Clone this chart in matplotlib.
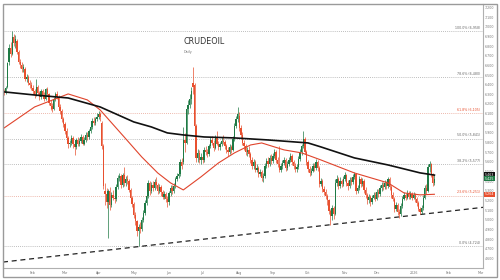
import numpy as np
import pandas as pd
import matplotlib
matplotlib.use("Agg")
import matplotlib.pyplot as plt
import matplotlib.transforms as mtransforms
from matplotlib.patches import Rectangle

# daily candles, first session 2025-01-08, business days only
first_day = "2025-01-08"

opens = [6330, 6310, 6380, 6630, 6780, 6720, 6890, 6830, 6850, 6740, 6640, 6600, 6560, 6560, 6460, 6480, 6420, 6400,
         6370, 6330, 6290, 6380, 6310, 6270, 6330, 6290, 6250, 6350, 6300, 6210, 6180, 6150, 6250, 6300, 6270, 6170, 6130, 6040,
         5990, 5920, 5850, 5780, 5800, 5850, 5790, 5750, 5830, 5780, 5820, 5860, 5790, 5830, 5880, 5860, 5920, 5960, 6020, 6000, 6040,
         6070, 6100, 6000, 5760, 5300, 5270, 5180, 5300, 5150, 5260, 5230, 5210, 5340, 5430, 5450, 5360, 5460, 5380, 5420, 5400, 5310, 5230,
         5160, 5050, 4990, 4880, 4930, 4900, 5000, 5070, 5170, 5250, 5380, 5300, 5360, 5330, 5390, 5360, 5300, 5340, 5290, 5240, 5270, 5220,
         5180, 5280, 5330, 5300, 5350, 5420, 5450, 5470, 5600, 5600, 5830, 5800, 6150, 6190, 6250, 6420, 6400, 5970, 5640, 5690, 5620,
         5650, 5620, 5720, 5700, 5680, 5760, 5830, 5800, 5740, 5850, 5790, 5750, 5780, 5820, 5810, 5760, 5720, 5700, 5750, 5720, 5840, 5970, 6040,
         6080, 5950, 5880, 5800, 5760, 5700, 5720, 5680, 5620, 5560, 5600, 5520, 5540, 5470, 5500, 5430, 5450, 5560, 5610, 5580, 5640,
         5610, 5660, 5700, 5620, 5580, 5520, 5560, 5590, 5620, 5540, 5580, 5620, 5660, 5600, 5560, 5530, 5550, 5630, 5700, 5760, 5840, 5700,
         5600, 5530, 5480, 5510, 5560, 5540, 5600, 5540, 5370, 5400, 5320, 5290, 5250, 5200, 5090, 5040, 5120, 5060, 5380, 5420, 5350, 5400, 5370,
         5420, 5460, 5380, 5350, 5410, 5390, 5440, 5470, 5300, 5330, 5420, 5370, 5400, 5310, 5260, 5200, 5240, 5180, 5230, 5260,
         5220, 5290, 5270, 5330, 5360, 5340, 5380, 5350, 5420, 5340, 5260, 5220, 5110, 5150, 5080, 5060, 5140, 5220, 5260, 5230, 5280, 5240, 5270,
         5230, 5260, 5210, 5170, 5110, 5080, 5120, 5230, 5330, 5300, 5550, 5580, 5460, 5380]
highs = [6360, 6390, 6640, 6820, 6840, 6958, 6920, 6910, 6870, 6760, 6670, 6630, 6610, 6580, 6510, 6500, 6450, 6430,
         6400, 6360, 6460, 6400, 6330, 6350, 6360, 6320, 6370, 6380, 6310, 6240, 6210, 6270, 6320, 6330, 6290, 6200, 6150, 6060,
         6010, 5950, 5870, 5830, 5880, 5870, 5810, 5850, 5860, 5850, 5890, 5880, 5860, 5910, 5910, 5940, 5990, 6050, 6060, 6070, 6110,
         6130, 6120, 6020, 5780, 5380, 5330, 5320, 5340, 5290, 5310, 5270, 5370, 5460, 5480, 5470, 5480, 5550, 5450, 5460, 5420, 5330, 5250,
         5180, 5080, 5000, 4960, 4980, 5030, 5100, 5200, 5280, 5410, 5400, 5390, 5400, 5420, 5440, 5380, 5370, 5360, 5310, 5300, 5290, 5250,
         5300, 5360, 5360, 5380, 5440, 5480, 5500, 5630, 5640, 5960, 5900, 6180, 6240, 6300, 6380, 6580, 6420, 5990, 5730, 5720, 5690,
         5680, 5750, 5760, 5730, 5790, 5860, 5870, 5830, 5880, 5920, 5820, 5810, 5860, 5880, 5830, 5780, 5750, 5780, 5770, 5870, 6000, 6080, 6170,
         6120, 5980, 5910, 5830, 5790, 5750, 5760, 5700, 5650, 5630, 5620, 5580, 5560, 5530, 5520, 5480, 5590, 5640, 5650, 5670, 5680,
         5690, 5730, 5720, 5650, 5760, 5590, 5620, 5650, 5640, 5610, 5650, 5690, 5680, 5620, 5590, 5580, 5660, 5730, 5790, 5920, 5860, 5720,
         5620, 5560, 5540, 5590, 5590, 5630, 5620, 5560, 5430, 5420, 5350, 5320, 5270, 5220, 5110, 5150, 5140, 5420, 5460, 5440, 5440, 5420, 5450,
         5490, 5470, 5410, 5440, 5440, 5470, 5500, 5480, 5360, 5450, 5440, 5430, 5420, 5340, 5280, 5270, 5260, 5260, 5290, 5290,
         5320, 5320, 5360, 5390, 5390, 5410, 5400, 5440, 5440, 5360, 5290, 5240, 5180, 5170, 5110, 5170, 5250, 5290, 5280, 5310, 5300, 5300, 5290,
         5290, 5280, 5240, 5190, 5130, 5150, 5260, 5360, 5370, 5580, 5610, 5590, 5480, 5460]
lows = [6290, 6300, 6370, 6600, 6690, 6710, 6800, 6780, 6720, 6610, 6570, 6530, 6530, 6440, 6430, 6400, 6370, 6340,
        6300, 6260, 6280, 6290, 6240, 6250, 6260, 6230, 6240, 6280, 6190, 6140, 6120, 6140, 6230, 6250, 6150, 6100, 6010, 5960,
        5890, 5810, 5740, 5750, 5770, 5740, 5670, 5730, 5760, 5760, 5800, 5770, 5770, 5810, 5830, 5840, 5900, 5940, 5980, 5980, 6020,
        6040, 6020, 5730, 5320, 5150, 5120, 4810, 5100, 5130, 5200, 5170, 5190, 5320, 5400, 5330, 5340, 5350, 5350, 5370, 5290, 5200, 5130,
        5020, 4950, 4830, 4724, 4860, 4880, 4980, 5050, 5150, 5230, 5260, 5280, 5300, 5310, 5330, 5270, 5280, 5250, 5210, 5220, 5180, 5130,
        5150, 5250, 5270, 5280, 5330, 5400, 5430, 5450, 5530, 5580, 5700, 5780, 6100, 6160, 6200, 6300, 5940, 5600, 5600, 5590, 5580,
        5590, 5600, 5670, 5650, 5660, 5740, 5770, 5710, 5730, 5770, 5720, 5720, 5760, 5780, 5730, 5690, 5660, 5680, 5690, 5710, 5820, 5950, 6010,
        5920, 5850, 5770, 5720, 5670, 5660, 5650, 5590, 5530, 5530, 5490, 5500, 5440, 5450, 5400, 5390, 5430, 5540, 5550, 5560, 5580,
        5590, 5640, 5590, 5550, 5500, 5490, 5530, 5570, 5510, 5520, 5560, 5600, 5570, 5530, 5500, 5500, 5530, 5610, 5670, 5740, 5680, 5570,
        5500, 5450, 5460, 5490, 5510, 5520, 5510, 5340, 5350, 5290, 5260, 5220, 5150, 5060, 4950, 5000, 5010, 5050, 5350, 5320, 5330, 5340, 5350,
        5400, 5350, 5310, 5330, 5360, 5370, 5420, 5270, 5280, 5310, 5340, 5350, 5280, 5230, 5160, 5170, 5140, 5160, 5210, 5190,
        5200, 5240, 5250, 5300, 5310, 5320, 5320, 5330, 5310, 5230, 5190, 5080, 5090, 5050, 5020, 5040, 5120, 5200, 5200, 5210, 5210, 5220, 5200,
        5210, 5180, 5140, 5090, 5055, 5060, 5100, 5210, 5270, 5290, 5500, 5440, 5350, 5360]
closes = [6310, 6370, 6620, 6780, 6720, 6890, 6830, 6870, 6740, 6640, 6600, 6560, 6580, 6460, 6480, 6420, 6400, 6370,
          6330, 6290, 6380, 6310, 6270, 6330, 6290, 6250, 6350, 6300, 6210, 6180, 6150, 6250, 6300, 6270, 6170, 6130, 6040, 5990,
          5920, 5850, 5780, 5800, 5850, 5790, 5750, 5830, 5780, 5820, 5860, 5790, 5830, 5880, 5860, 5920, 5960, 6020, 6000, 6040, 6070,
          6100, 6060, 5760, 5350, 5270, 5180, 5300, 5150, 5260, 5230, 5210, 5340, 5430, 5450, 5360, 5460, 5380, 5420, 5400, 5310, 5230, 5160,
          5050, 4990, 4880, 4930, 4900, 5000, 5070, 5170, 5250, 5380, 5300, 5360, 5330, 5390, 5360, 5300, 5340, 5290, 5240, 5270, 5220, 5180,
          5280, 5330, 5300, 5350, 5420, 5450, 5470, 5600, 5560, 5830, 5800, 6150, 6190, 6250, 6330, 6380, 5970, 5640, 5690, 5620, 5650,
          5620, 5720, 5700, 5680, 5760, 5830, 5800, 5740, 5850, 5790, 5750, 5780, 5820, 5810, 5760, 5720, 5700, 5750, 5720, 5840, 5970, 6040, 6100,
          5950, 5880, 5800, 5760, 5700, 5720, 5680, 5620, 5560, 5600, 5520, 5540, 5470, 5500, 5430, 5450, 5560, 5610, 5580, 5640, 5610,
          5660, 5700, 5620, 5580, 5520, 5560, 5590, 5620, 5540, 5580, 5620, 5660, 5600, 5560, 5530, 5550, 5630, 5700, 5760, 5840, 5700, 5600,
          5530, 5480, 5510, 5560, 5540, 5600, 5540, 5370, 5400, 5320, 5290, 5250, 5200, 5090, 5040, 5120, 5060, 5380, 5420, 5350, 5400, 5370, 5420,
          5460, 5380, 5350, 5410, 5390, 5440, 5470, 5300, 5330, 5420, 5370, 5400, 5310, 5260, 5200, 5240, 5180, 5230, 5260, 5220,
          5290, 5270, 5330, 5360, 5340, 5380, 5350, 5420, 5340, 5260, 5220, 5110, 5150, 5080, 5060, 5140, 5220, 5260, 5230, 5280, 5240, 5270, 5230,
          5260, 5210, 5170, 5110, 5080, 5120, 5230, 5330, 5300, 5550, 5580, 5460, 5380, 5425]

# moving averages
ma50_dates = ["2025-01-08", "2025-02-04", "2025-03-05", "2025-03-21", "2025-04-02", "2025-04-23", "2025-05-08",
              "2025-05-22", "2025-06-03", "2025-06-13", "2025-06-30", "2025-07-15", "2025-07-29", "2025-08-12",
              "2025-08-21", "2025-09-10", "2025-09-25", "2025-10-13", "2025-11-11", "2025-12-10", "2025-12-24",
              "2026-01-07", "2026-01-20"]
ma50_values = [5952, 6169, 6304, 6242, 6138, 5858, 5651, 5485, 5382, 5309, 5444, 5589, 5693, 5775,
               5796, 5724, 5693, 5620, 5485, 5382, 5278, 5258, 5264]
ma200_dates = ["2025-01-08", "2025-02-04", "2025-03-05", "2025-04-02", "2025-05-01", "2025-05-16", "2025-05-30",
               "2025-06-13", "2025-07-02", "2025-07-29", "2025-08-27", "2025-10-01", "2025-10-13", "2025-11-11",
               "2025-12-10", "2026-01-07", "2026-01-20"]
ma200_values = [6325, 6293, 6262, 6169, 6014, 5962, 5900, 5879, 5858, 5848, 5827, 5796, 5755, 5641,
                5568, 5486, 5463]

fib_names = ["100.0%", "78.6%", "61.8%", "50.0%", "38.2%", "23.6%", "0.0%"]
fib_levels = [6958, 6480, 6105, 5841, 5577, 5251, 4724]
fib_red = [False, False, True, False, False, True, False]

trend_dates = ["2025-01-08", "2026-03-02"]
trend_values = [4563, 5126]

month_dates = ["2025-02-03", "2025-03-03", "2025-04-01", "2025-05-01", "2025-06-02", "2025-07-01", "2025-08-01",
               "2025-09-01", "2025-10-01", "2025-11-03", "2025-12-01", "2026-01-01", "2026-02-02", "2026-03-02"]
month_labels = ["Feb", "Mar", "Apr", "May", "Jun", "Jul", "Aug", "Sep", "Oct", "Nov", "Dec", "2026", "Feb", "Mar"]

last_ma200 = 5463
last_close = 5425
last_ma50 = 5264

GREEN = "#1f7a45"
RED = "#e8502f"
GRID = "#a8a8a8"

days = pd.bdate_range(first_day, periods=330)
def pos(dates):
    return days.get_indexer(pd.to_datetime(dates))

o = np.array(opens)
h = np.array(highs)
l = np.array(lows)
c = np.array(closes)
x = np.arange(len(c))
col = np.where(c >= o, GREEN, RED)

fig = plt.figure(figsize=(5, 2.8), dpi=100)
ax = fig.add_axes([3 / 500, 12 / 280, 480 / 500, 264 / 280])
ax.set_xlim(-0.75, 299.4)
ax.set_ylim(4500, 7236)

# fibonacci levels
trans = mtransforms.blended_transform_factory(ax.transAxes, ax.transData)
for name, lvl, red in zip(fib_names, fib_levels, fib_red):
    lc = "#e8a090" if red else GRID
    ax.axhline(lvl, color=lc, lw=0.6, ls=(0, (1, 1.5)), zorder=1)
    ax.text(0.995, lvl + 12, f"{name} ({lvl:,})", transform=trans, ha="right", va="bottom",
            fontsize=2.3, color=RED if red else "#666666")

ax.axline((pos(trend_dates)[0], trend_values[0]), (pos(trend_dates)[1], trend_values[1]),
          color="#222222", lw=0.9, ls=(0, (4, 3)), zorder=2)

# candles
ax.vlines(x, l, h, colors=col, lw=0.5, zorder=3)
ax.bar(x, np.maximum(np.abs(c - o), 6), bottom=np.minimum(o, c), width=0.85, color=col, lw=0, zorder=4)

ax.plot(pos(ma50_dates), ma50_values, color="#e0442c", lw=0.8, zorder=5)
ax.plot(pos(ma200_dates), ma200_values, color="#111111", lw=1.2, zorder=5)

# axes styling
ax.yaxis.tick_right()
ax.set_yticks(np.arange(4600, 7201, 100))
ax.set_yticklabels([f"{v:,}" for v in range(4600, 7201, 100)])
ax.set_xticks(pos(month_dates))
ax.set_xticklabels(month_labels)
ax.tick_params(axis="both", length=0, labelsize=2.3, labelcolor="#777777")
ax.tick_params(axis="y", pad=1.5)
ax.tick_params(axis="x", pad=2)
for s in ["top", "left"]:
    ax.spines[s].set_visible(False)
for s in ["bottom", "right"]:
    ax.spines[s].set_color("#b0b0b0")
    ax.spines[s].set_linewidth(0.8)

# last value tags on the price axis
for val, fc in [(last_ma200, "#111111"), (last_close, GREEN), (last_ma50, RED)]:
    ax.text(1.004, val, f"{val:,}", transform=trans, ha="left", va="center", fontsize=2.3, color="white",
            bbox=dict(facecolor=fc, edgecolor="none", pad=0.5), clip_on=False)

fig.text(183 / 500, 1 - 41 / 280, "CRUDEOIL", fontsize=5.8, color="#333333", va="center", ha="left")
fig.text(184 / 500, 1 - 52 / 280, "Daily", fontsize=2.4, color="#777777", va="center", ha="left")

fig.patches.append(Rectangle((3 / 500, 3 / 280), 494 / 500, 273 / 280, transform=fig.transFigure,
                             fill=False, edgecolor="#9a9a9a", lw=1.0))

fig.savefig("out.png", dpi=100)
